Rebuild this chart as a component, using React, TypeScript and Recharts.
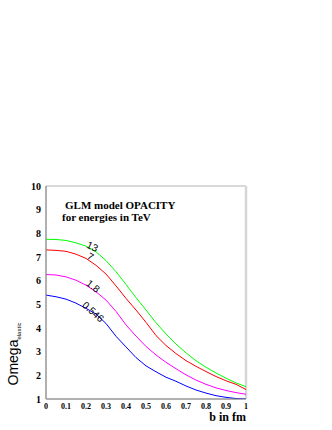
import { LineChart, Line, XAxis, YAxis, ReferenceArea, ReferenceLine, ReferenceDot, Label } from "recharts"

// impact parameter b (fm)
const bValues = [0, 0.05, 0.1, 0.15, 0.2, 0.25, 0.3, 0.35, 0.4, 0.45, 0.5, 0.55, 0.6, 0.65, 0.7, 0.75, 0.8, 0.85, 0.9, 0.95, 1]

// opacity Omega for each energy (TeV)
const omega13 = [7.75, 7.74, 7.7, 7.6, 7.46, 7.22, 6.85, 6.38, 5.84, 5.28, 4.76, 4.22, 3.75, 3.32, 2.95, 2.62, 2.34, 2.1, 1.88, 1.68, 1.52]
const omega7 = [7.3, 7.28, 7.24, 7.12, 6.94, 6.65, 6.28, 5.78, 5.25, 4.76, 4.24, 3.68, 3.26, 2.92, 2.62, 2.38, 2.16, 1.95, 1.77, 1.62, 1.4]
const omega18 = [6.26, 6.24, 6.16, 6.02, 5.81, 5.53, 5.18, 4.7, 4.13, 3.66, 3.22, 2.86, 2.55, 2.28, 2.02, 1.8, 1.62, 1.47, 1.36, 1.27, 1.2]
const omega0546 = [5.39, 5.32, 5.22, 5.05, 4.83, 4.59, 4.19, 3.65, 3.2, 2.75, 2.4, 2.15, 1.92, 1.75, 1.55, 1.38, 1.25, 1.14, 1.07, 1.02, 1.0]

const xTicks = [0, 0.1, 0.2, 0.3, 0.4, 0.5, 0.6, 0.7, 0.8, 0.9, 1]
const xMinorTicks = Array.from({ length: 51 }, (_, i) => +(i * 0.02).toFixed(2))
const yTicks = [1, 2, 3, 4, 5, 6, 7, 8, 9, 10]
const yMinorTicks = Array.from({ length: 46 }, (_, i) => +(1 + i * 0.2).toFixed(1))

// curve annotations: energy label, position (b, omega), rotation
const curveLabels = [
  { text: "13", b: 0.23, v: 7.41, angle: 25 },
  { text: "7", b: 0.22, v: 6.99, angle: 30 },
  { text: "1.8", b: 0.233, v: 5.74, angle: 38 },
  { text: "0.546", b: 0.233, v: 4.66, angle: 42 },
]

const data = bValues.map((b, i) => ({
  b,
  e13: omega13[i],
  e7: omega7[i],
  e18: omega18[i],
  e0546: omega0546[i],
}))

const serif = "'Liberation Serif', 'Times New Roman', serif"
const sans = "'Liberation Sans', Arial, sans-serif"

export default function App() {
  return (
    <div style={{ position: "absolute", left: 0, top: 0, width: 332, height: 430, background: "#fff" }}>
      <LineChart width={332} height={430} data={data} margin={{ top: 186, right: 86, bottom: 6, left: 16 }}>
        <XAxis
          dataKey="b"
          type="number"
          domain={[0, 1]}
          ticks={xTicks}
          tickFormatter={(v: number) => (v === 0 || v === 1 ? String(v) : v.toFixed(1))}
          tick={{ fontFamily: serif, fontSize: 8, fontWeight: "bold", fill: "#000" }}
          tickLine={false}
          axisLine={false}
          tickSize={2}
          tickMargin={2}
          height={25}
          allowDataOverflow
        >
          <Label
            content={() => (
              <text x={246} y={421} textAnchor="end" fontFamily={serif} fontSize={12} fontWeight="bold" fill="#000">
                b in fm
              </text>
            )}
          />
        </XAxis>
        <XAxis xAxisId="xmaj" type="number" domain={[0, 1]} ticks={xTicks} mirror tick={false} tickSize={5} axisLine={{ stroke: "#888" }} tickLine={{ stroke: "#999" }} allowDataOverflow />
        <XAxis xAxisId="xmin" type="number" domain={[0, 1]} ticks={xMinorTicks} mirror tick={false} tickSize={3} axisLine={false} tickLine={{ stroke: "#ccc" }} allowDataOverflow />
        <YAxis
          type="number"
          domain={[1, 10]}
          ticks={yTicks}
          tick={{ fontFamily: serif, fontSize: 10, fontWeight: "bold", fill: "#000" }}
          tickLine={false}
          axisLine={false}
          tickSize={3}
          tickMargin={2}
          width={30}
          allowDataOverflow
        >
          <Label
            content={() => (
              <text transform="translate(18,354) rotate(-90)" textAnchor="middle" fontFamily={sans} fill="#000">
                <tspan fontSize={14}>Omega</tspan>
                <tspan fontSize={6} dy={3}>elastic</tspan>
              </text>
            )}
          />
        </YAxis>
        <YAxis yAxisId="ymaj" type="number" domain={[1, 10]} ticks={yTicks} mirror tick={false} tickSize={5} axisLine={{ stroke: "#888" }} tickLine={{ stroke: "#999" }} allowDataOverflow />
        <YAxis yAxisId="ymin" type="number" domain={[1, 10]} ticks={yMinorTicks} mirror tick={false} tickSize={3} axisLine={false} tickLine={{ stroke: "#ccc" }} allowDataOverflow />

        <ReferenceArea x1={0} x2={1} y1={1} y2={10} fill="none" stroke="#b4b4b4" ifOverflow="visible" />
        <ReferenceLine x={1} stroke="#d6d6d6" strokeWidth={2.5} ifOverflow="visible" />

        <Line dataKey="e13" stroke="#00ff00" strokeWidth={1} dot={false} isAnimationActive={false} />
        <Line dataKey="e7" stroke="#ff0000" strokeWidth={1} dot={false} isAnimationActive={false} />
        <Line dataKey="e18" stroke="#ff00ff" strokeWidth={1} dot={false} isAnimationActive={false} />
        <Line dataKey="e0546" stroke="#0000ff" strokeWidth={1} dot={false} isAnimationActive={false} />

        {curveLabels.map((c) => (
          <ReferenceDot
            key={c.text}
            x={c.b}
            y={c.v}
            r={0}
            ifOverflow="visible"
            shape={(p: any) => (
              <text
                x={p.cx}
                y={p.cy}
                textAnchor="middle"
                dominantBaseline="middle"
                transform={`rotate(${c.angle} ${p.cx} ${p.cy})`}
                fontFamily={sans}
                fontSize={10}
                fill="#000"
              >
                {c.text}
              </text>
            )}
          />
        ))}

        <ReferenceDot
          x={0.095}
          y={9.02}
          r={0}
          ifOverflow="visible"
          shape={(p: any) => (
            <text fontFamily={serif} fontSize={11} fontWeight="bold" fill="#000">
              <tspan x={p.cx} y={p.cy}>GLM model OPACITY</tspan>
              <tspan x={p.cx - 3} y={p.cy + 11.5}>for energies in TeV</tspan>
            </text>
          )}
        />
      </LineChart>
    </div>
  )
}
